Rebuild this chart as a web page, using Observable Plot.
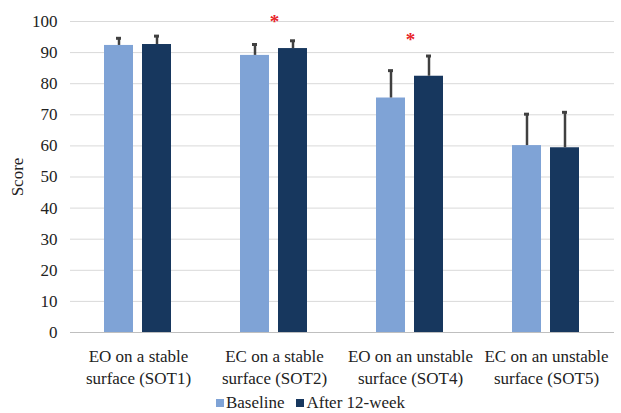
<!DOCTYPE html>
<html>
<head>
<meta charset="utf-8">
<script src="https://cdn.jsdelivr.net/npm/d3@7"></script>
<script src="https://cdn.jsdelivr.net/npm/@observablehq/plot@0.6"></script>
<style>
  body { margin: 0; background: #fff; font-family: "Liberation Serif", "Times New Roman", serif; }
  #chart { width: 621px; }
  .legend { display: flex; justify-content: center; gap: 12px; font-size: 17px; line-height: 20px; color: #222; margin-top: 5px; }
  .legend span.sw { display: inline-block; width: 8px; height: 8px; margin-right: 2px; vertical-align: 1px; }
</style>
</head>
<body>
<div id="chart"></div>
<script>
const groups = ["EO on a stable\nsurface (SOT1)", "EC on a stable\nsurface (SOT2)", "EO on an unstable\nsurface (SOT4)", "EC on an unstable\nsurface (SOT5)"];
const seriesNames = ["Baseline", "After 12-week"];
const yTicks = [0, 10, 20, 30, 40, 50, 60, 70, 80, 90, 100];
const baselineMean = [92.3, 89.1, 75.4, 60.1];
const baselineUpper = [94.6, 92.6, 84.2, 70.2];
const afterMean = [92.6, 91.3, 82.4, 59.4];
const afterUpper = [95.3, 93.8, 88.9, 70.8];
const significant = [
  {group: groups[1], y: 100},
  {group: groups[2], y: 94.2}
];
const colors = ["#7fa3d6", "#17375e"];

const data = [];
groups.forEach((g, i) => {
  data.push({group: g, series: seriesNames[0], value: baselineMean[i], upper: baselineUpper[i]});
  data.push({group: g, series: seriesNames[1], value: afterMean[i], upper: afterUpper[i]});
});

const plot = Plot.plot({
  width: 621,
  height: 388,
  marginLeft: 68,
  marginRight: 6,
  marginTop: 21,
  marginBottom: 56,
  style: {fontFamily: "'Liberation Serif', 'Times New Roman', serif", fontSize: "17px", color: "#222", background: "#fff"},
  fx: {domain: groups, padding: 0, label: null},
  x: {domain: seriesNames, axis: null, paddingInner: 0.23, paddingOuter: 0.87},
  y: {domain: [0, 100]},
  color: {domain: seriesNames, range: colors},
  marks: [
    Plot.ruleY(yTicks.filter(d => d > 0), {stroke: "#d9d9d9", strokeWidth: 1}),
    Plot.ruleY([0], {stroke: "#bfbfbf", strokeWidth: 1}),
    Plot.axisY({ticks: yTicks, tickSize: 0, tickPadding: 13, fontSize: 17, label: "Score", labelAnchor: "center", labelArrow: "none", labelOffset: 60}),
    Plot.axisFx({anchor: "bottom", tickSize: 0, tickPadding: 14, fontSize: 17, lineHeight: 1.3, label: null, tickFormat: d => d}),
    Plot.barY(data, {fx: "group", x: "series", y: "value", fill: "series"}),
    Plot.ruleX(data, {fx: "group", x: "series", y1: "value", y2: "upper", stroke: "#404040", strokeWidth: 2.5}),
    Plot.tickY(data, {fx: "group", x: "series", y: "upper", stroke: "#404040", strokeWidth: 3, insetLeft: 12, insetRight: 12}),
    Plot.text(significant, {fx: "group", y: "y", text: () => "*", fill: "#e8252a", fontSize: 19, fontWeight: 600})
  ]
});
document.getElementById("chart").appendChild(plot);

const legend = document.createElement("div");
legend.className = "legend";
seriesNames.forEach((s, i) => {
  const item = document.createElement("div");
  item.innerHTML = `<span class="sw" style="background:${colors[i]}"></span>${s}`;
  legend.appendChild(item);
});
document.getElementById("chart").appendChild(legend);
</script>
</body>
</html>
